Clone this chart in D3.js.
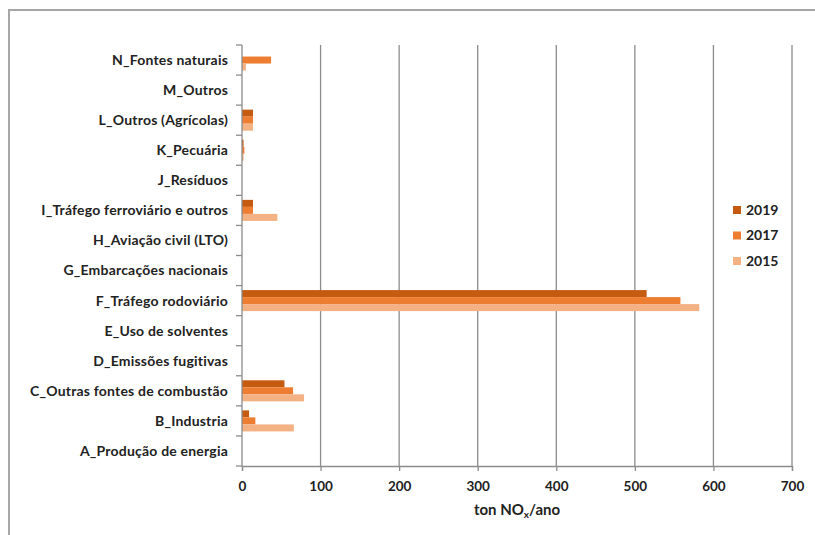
<!DOCTYPE html>
<html><head><meta charset="utf-8">
<script src="https://cdn.jsdelivr.net/npm/d3@7"></script>
<style>
body{margin:0;background:#fff;}
text{font-family:Lato,"Open Sans",sans-serif;}
</style></head>
<body><svg id="c" width="815" height="535"></svg>
<script>
const categories = ["N_Fontes naturais","M_Outros","L_Outros (Agrícolas)","K_Pecuária","J_Resíduos","I_Tráfego ferroviário e outros","H_Aviação civil (LTO)","G_Embarcações nacionais","F_Tráfego rodoviário","E_Uso de solventes","D_Emissões fugitivas","C_Outras fontes de combustão","B_Industria","A_Produção de energia"];
const seriesNames = ["2019","2017","2015"];
const v2019 = [0,0,14,2,0,14,0,0,515,0,0,54,9,0];
const v2017 = [37,0,14,3,0,14,0,0,558,0,0,65,17,0];
const v2015 = [5,0,14,2,0,45,0,0,582,0,0,79,66,0];
const seriesValues = [v2019,v2017,v2015];
const xTicks = [0,100,200,300,400,500,600,700];
const colors = ["#C55A11","#ED7D31","#F4B183"];

const svg = d3.select("#c");
// outer frame
svg.append("path").attr("d","M9,535 L9,10 L815,10").attr("fill","none").attr("stroke","#a6a6a6").attr("stroke-width",2);

const x = d3.scaleLinear().domain([0,700]).range([242,792]);
const y0 = d3.scaleBand().domain(categories).range([45,466]).paddingInner(0.3).paddingOuter(0.15);
const y1 = d3.scaleBand().domain(seriesNames).range([0,y0.bandwidth()]);

// gridlines
svg.append("g").selectAll("line").data(xTicks.slice(1)).join("line")
  .attr("x1",d=>x(d)).attr("x2",d=>x(d)).attr("y1",45).attr("y2",466)
  .attr("stroke","#8c8c8c").attr("stroke-width",1.3);

// bars
const rows = categories.map((c,i)=>({c, vals: seriesNames.map((s,j)=>({s, v: seriesValues[j][i], col: colors[j]}))}));
const g = svg.append("g").selectAll("g").data(rows).join("g")
  .attr("transform",d=>`translate(0,${y0(d.c)})`);
g.selectAll("rect").data(d=>d.vals).join("rect")
  .attr("x",x(0)).attr("y",d=>y1(d.s)).attr("height",y1.bandwidth())
  .attr("width",d=>x(d.v)-x(0)).attr("fill",d=>d.col);

// y axis
const step = y0.step();
const yb = [];
for(let i=0;i<=categories.length;i++) yb.push(45+i*step);
svg.append("line").attr("x1",242).attr("x2",242).attr("y1",45).attr("y2",466).attr("stroke","#8c8c8c").attr("stroke-width",1.3);
svg.append("g").selectAll("line").data(yb).join("line")
  .attr("x1",236).attr("x2",242).attr("y1",d=>d).attr("y2",d=>d).attr("stroke","#8c8c8c").attr("stroke-width",1.3);
svg.append("g").selectAll("text").data(categories).join("text")
  .attr("x",228).attr("y",d=>y0(d)+y0.bandwidth()/2).attr("dy","0.35em")
  .attr("text-anchor","end").attr("font-size",14).attr("font-weight",700).attr("fill","#222")
  .attr("letter-spacing",0.2)
  .text(d=>d);

// x axis
const xAxis = d3.axisBottom(x).tickValues(xTicks).tickSize(5).tickPadding(10).tickFormat(d3.format("d"));
const xa = svg.append("g").attr("transform","translate(0,466)").call(xAxis);
xa.select(".domain").attr("stroke","#8c8c8c").attr("stroke-width",1.3);
xa.selectAll(".tick line").attr("stroke","#8c8c8c").attr("stroke-width",1.3);
xa.selectAll(".tick text").attr("font-size",13.5).attr("font-weight",700).attr("fill","#222").attr("font-family","Lato,sans-serif");

// x title
const t = svg.append("text").attr("x",517).attr("y",515).attr("text-anchor","middle")
  .attr("font-size",15).attr("font-weight",700).attr("fill","#222");
t.append("tspan").text("ton NO");
t.append("tspan").attr("font-size",10).attr("dy",3).text("x");
t.append("tspan").attr("dy",-3).text("/ano");

// legend
const lg = svg.append("g").selectAll("g").data(seriesNames).join("g")
  .attr("transform",(d,i)=>`translate(733,${210+i*25.5})`);
lg.append("rect").attr("x",0).attr("y",-4).attr("width",8).attr("height",8).attr("fill",(d,i)=>colors[i]);
lg.append("text").attr("x",13).attr("y",0).attr("dy","0.35em").attr("font-size",14).attr("font-weight",700).attr("fill","#222").text(d=>d);
</script></body></html>
